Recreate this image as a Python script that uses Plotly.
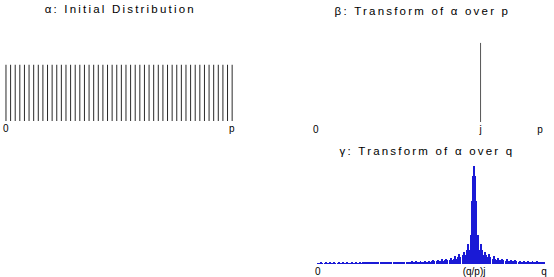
import plotly.graph_objects as go

# ---------------- data ----------------
alpha_values = [1, 1, 1, 1, 1, 1, 1, 1, 1, 1,
                1, 1, 1, 1, 1, 1, 1, 1, 1, 1,
                1, 1, 1, 1, 1, 1, 1, 1, 1, 1,
                1, 1, 1, 1, 1, 1, 1, 1, 1, 1,
                1, 1, 1, 1, 1, 1, 1, 1, 1, 1]
alpha_ticks = [0, 49]
alpha_ticktext = ["0", "p"]

beta_values = [0, 0, 0, 0, 0, 0, 0, 0, 0, 0,
               0, 0, 0, 0, 0, 0, 0, 0, 0, 0,
               0, 0, 0, 0, 0, 0, 0, 0, 0, 0,
               0, 0, 0, 0, 0, 0, 1, 0, 0, 0,
               0, 0, 0, 0, 0, 0, 0, 0, 0, 0]
beta_ticks = [0, 36, 49]
beta_ticktext = ["0", "j", "p"]

gamma_values = [
    1.8,
    0, 1.8, 2.2, 1.8, 0, 1.8, 2.2, 1.8, 0, 1.8, 2.2, 1.8, 0, 1.8, 2.2, 1.8,
    0, 1.8, 2.2, 1.8, 0, 1.8, 2.2, 1.8, 0, 1.8, 2.2, 1.8, 0, 1.8, 2.2, 1.8,
    0, 1.8, 2.2, 1.8, 0, 1.8, 2.2, 1.8,
    0, 1.9, 2.4, 1.9, 0, 1.9, 2.4, 1.9, 0, 1.9, 2.4, 1.9, 0, 1.9, 2.4, 1.9,
    0, 2, 2.5, 2, 0, 2, 2.5, 2, 0, 2, 2.6, 2, 0, 2, 2.6, 2,
    0, 2, 2.7, 2,
    0, 2, 2.7, 2, 0, 2, 2.8, 2, 0, 2.1, 3, 2.1, 0, 2.2, 3.1, 2.2,
    0, 2.3, 3.3, 2.3, 0, 2.5, 3.5, 2.5, 0, 2.7, 3.8, 2.7, 0, 3, 4.2, 3,
    0, 3.2, 4.6, 3.2, 0, 3.6, 5, 3.6, 0, 4, 5.8, 4, 0, 4.6, 6.6, 4.6,
    0, 5.5, 8, 5.5, 0, 7, 10, 7, 0, 9, 13, 9, 0, 15, 21, 15,
    0, 30, 64, 90,
    100,
    90, 64, 30, 0,
    15, 21, 15, 0, 9, 13, 9, 0, 7, 10, 7, 0, 5.5, 8, 5.5, 0,
    4.6, 6.6, 4.6, 0, 4, 5.8, 4, 0, 3.6, 5, 3.6, 0, 3.2, 4.6, 3.2, 0,
    3, 4.2, 3, 0, 2.7, 3.8, 2.7, 0, 2.5, 3.5, 2.5, 0, 2.3, 3.3, 2.3, 0,
    2.2, 3.1, 2.2, 0, 2.1, 3, 2.1, 0, 2, 2.8, 2, 0, 2,
]
gamma_ticks = [0, 145, 210]
gamma_ticktext = ["0", "(q/p)j", "q"]

titles = ["α: Initial Distribution", "β: Transform of α over p", "γ: Transform of α over q"]

FONT = "Liberation Sans, Arial, sans-serif"


def stems(values):
    xs, ys = [], []
    for i, v in enumerate(values):
        if v > 0:
            xs += [i, i, None]
            ys += [0, v, None]
    return xs, ys


fig = go.Figure()

ax, ay = stems(alpha_values)
fig.add_trace(go.Scatter(x=ax, y=ay, mode="lines", line=dict(color="#2a2a2a", width=1),
                         xaxis="x", yaxis="y", hoverinfo="skip"))
bx, by = stems(beta_values)
fig.add_trace(go.Scatter(x=bx, y=by, mode="lines", line=dict(color="#555555", width=1),
                         xaxis="x2", yaxis="y2", hoverinfo="skip"))
fig.add_trace(go.Bar(x=list(range(len(gamma_values))), y=gamma_values, width=0.9,
                     marker=dict(color="#1a1ad6", line=dict(width=0)),
                     xaxis="x3", yaxis="y3", hoverinfo="skip"))

xcommon = dict(showgrid=False, zeroline=False, showline=False, ticks="",
               tickfont=dict(family=FONT, size=10, color="#000"), fixedrange=True)
ycommon = dict(visible=False, showgrid=False, zeroline=False, fixedrange=True)

tfont = dict(family=FONT, size=11.5, color="#000")
fig.update_layout(
    width=554, height=277,
    margin=dict(l=0, r=0, t=0, b=0),
    paper_bgcolor="white", plot_bgcolor="white",
    showlegend=False, bargap=0, hovermode=False,
    xaxis=dict(domain=[0.00066, 0.4271], range=[-1, 50], tickmode="array",
               tickvals=alpha_ticks, ticktext=alpha_ticktext, anchor="y", **xcommon),
    yaxis=dict(domain=[0.5596, 0.7653], range=[0, 1], anchor="x", **ycommon),
    xaxis2=dict(domain=[0.5621, 0.9848], range=[-1, 50], tickmode="array",
                tickvals=beta_ticks, ticktext=beta_ticktext, anchor="y2", **xcommon),
    yaxis2=dict(domain=[0.5560, 0.8448], range=[0, 1], anchor="x2", **ycommon),
    xaxis3=dict(domain=[0.5701, 0.9877], range=[-2, 212], tickmode="array",
                tickvals=gamma_ticks, ticktext=gamma_ticktext, anchor="y3", **xcommon),
    yaxis3=dict(domain=[0.0397, 0.3971], range=[0, 100], anchor="x3", **ycommon),
    annotations=[
        dict(text=titles[0], x=120 / 554, y=1 - 9 / 277, xref="paper", yref="paper",
             showarrow=False, xanchor="center", yanchor="middle", font=tfont),
        dict(text=titles[1], x=423 / 554, y=1 - 11 / 277, xref="paper", yref="paper",
             showarrow=False, xanchor="center", yanchor="middle", font=tfont),
        dict(text=titles[2], x=428 / 554, y=1 - 152 / 277, xref="paper", yref="paper",
             showarrow=False, xanchor="center", yanchor="middle", font=tfont),
    ],
)

post = """
document.body.style.margin = '0';
document.querySelectorAll('.annotation-text').forEach(function (t) {
  t.style.letterSpacing = '2.2px';
});
document.querySelectorAll('.xtick text').forEach(function (t) {
  t.style.letterSpacing = '0.6px';
});
"""

fig.write_html("out.html", post_script=post, config={"displayModeBar": False})
